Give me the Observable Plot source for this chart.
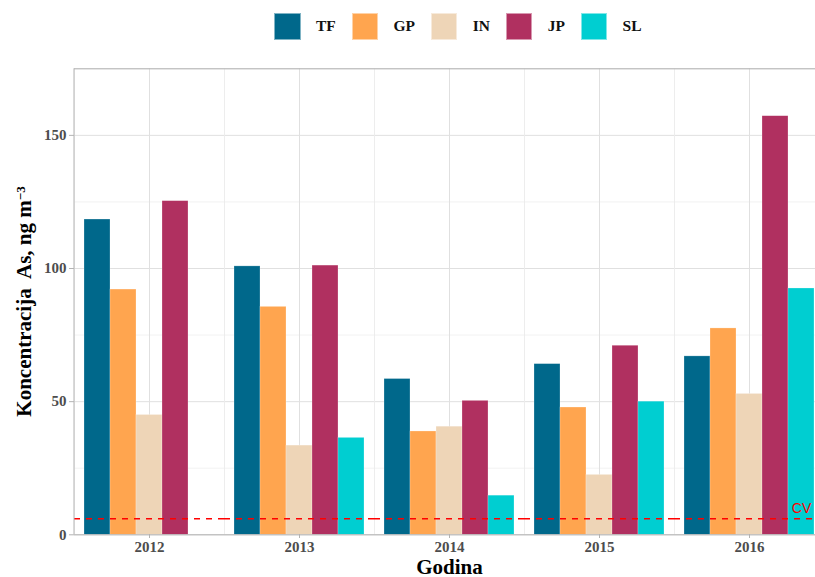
<!DOCTYPE html>
<html>
<head>
<meta charset="utf-8">
<script src="https://cdn.jsdelivr.net/npm/d3@7"></script>
<script src="https://cdn.jsdelivr.net/npm/@observablehq/plot@0.6"></script>
<style>
  html, body { margin: 0; padding: 0; background: #fff; overflow: hidden; }
  #wrap { position: relative; width: 815px; height: 577px; overflow: hidden; background: #fff; }
  #legend { position: absolute; left: 274px; top: 13px; display: flex; align-items: center;
            font-family: "Liberation Serif", serif; font-weight: bold; font-size: 15.5px; color: #111; }
  #legend .item { display: flex; align-items: center; margin-right: 15.7px; }
  #legend .sw { width: 26.5px; height: 26.5px; margin-right: 15.5px; box-sizing: border-box; border: 0.6px solid rgba(255,255,255,0.5); }
  #chart svg { display: block; max-width: none !important; width: 825px; height: 577px; }
  g[aria-label="y-axis label"] text, g[aria-label="fx-axis label"] text { font-size: 21px; fill: #000; white-space: pre; }
</style>
</head>
<body>
<div id="wrap">
  <div id="chart"></div>
  <div id="legend"></div>
</div>
<script>
// ---- data ----
const years = [2012, 2013, 2014, 2015, 2016];
const series = ["TF", "GP", "IN", "JP", "SL"];
const colors = ["#00688B", "#FFA54F", "#EED5B7", "#B03060", "#00CED1"];
const valuesTF = [118.4, 100.8, 58.5, 64.1, 67.0];
const valuesGP = [92.1, 85.6, 38.8, 47.8, 77.5];
const valuesIN = [45.0, 33.5, 40.6, 22.5, 52.9];
const valuesJP = [125.3, 101.1, 50.3, 71.0, 157.2];
const valuesSL = [null, 36.4, 14.7, 50.0, 92.5];
const cvValue = 6;
const cvLabel = "CV";
const yTicks = [0, 50, 100, 150];
const yMinorTicks = [25, 75, 125, 175];
const xTitle = "Godina";
const yTitle = "Koncentracija  As, ng m";
const yTitleSup = "\u22123";

const seriesValues = [valuesTF, valuesGP, valuesIN, valuesJP, valuesSL];
const data = [];
series.forEach((s, si) => {
  years.forEach((yr, yi) => {
    const v = seriesValues[si][yi];
    if (v != null) data.push({year: yr, series: s, value: v});
  });
});

const chart = Plot.plot({
  width: 825,
  height: 577,
  marginLeft: 73,
  marginRight: 0,
  marginTop: 68,
  marginBottom: 43,
  style: {fontFamily: "'Liberation Serif', serif", fontSize: "15px", fontWeight: "bold", color: "#4d4d4d", background: "white", overflow: "visible", maxWidth: "none"},
  fx: {domain: years, padding: 0, range: [73.2, 824.4], label: xTitle, tickFormat: "d"},
  x: {domain: series, paddingInner: 0, paddingOuter: 0.278, axis: null},
  y: {domain: [0, 175], range: [534.3, 68.3], label: yTitle},
  color: {domain: series, range: colors},
  marks: [
    Plot.ruleY(yMinorTicks, {stroke: "#ececec", strokeWidth: 0.7}),
    Plot.ruleY(yTicks, {stroke: "#e0e0e0", strokeWidth: 1}),
    Plot.frame({stroke: "#ececec", strokeWidth: 0.7}),
    Plot.gridFx({stroke: "#e0e0e0", strokeOpacity: 1, strokeWidth: 1}),
    Plot.barY(data, {fx: "year", x: "series", y: "value", fill: "series", stroke: "white", strokeOpacity: 0.4, strokeWidth: 0.6}),
    Plot.ruleY([cvValue], {stroke: "red", strokeDasharray: "6,6", strokeWidth: 1.5}),
    Plot.text([{year: years[4], series: series[4], value: cvValue}], {
      fx: "year", x: "series", y: "value", text: () => cvLabel, dy: -10,
      fill: "red", fontFamily: "'Liberation Sans', sans-serif", fontWeight: "normal", fontSize: 14
    }),
    Plot.ruleY([0, 175], {stroke: "#b3b3b3", strokeWidth: 1}),
    Plot.axisY({ticks: yTicks, tickSize: 5, tickPadding: 3, stroke: "#b3b3b3", fill: "#4d4d4d",
                label: yTitle, labelAnchor: "center", labelOffset: 58, labelArrow: "none"}),
    Plot.axisFx({anchor: "bottom", tickSize: 4, tickPadding: 3, stroke: "#b3b3b3", fill: "#4d4d4d", tickFormat: "d",
                 label: xTitle, labelAnchor: "center", labelOffset: 39, labelArrow: "none"})
  ]
});

document.getElementById("chart").appendChild(chart);

// left panel border drawn through the plot's own scales
const fxS = chart.scale("fx");
const yS = chart.scale("y");
d3.select(chart).append("line")
  .attr("x1", fxS.apply(years[0])).attr("x2", fxS.apply(years[0]))
  .attr("y1", yS.apply(0)).attr("y2", yS.apply(175))
  .attr("stroke", "#b3b3b3").attr("stroke-width", 1);

// superscript in y title
d3.select(chart).selectAll('g[aria-label="y-axis label"] text').each(function() {
  const t = d3.select(this);
  t.text(yTitle);
  t.append("tspan").attr("dy", "-0.5em").attr("font-size", "13px").text(yTitleSup);
});

// legend
const lg = d3.select("#legend");
series.forEach((s, i) => {
  const it = lg.append("div").attr("class", "item");
  it.append("div").attr("class", "sw").style("background", colors[i]);
  it.append("span").text(s);
});
</script>
</body>
</html>
